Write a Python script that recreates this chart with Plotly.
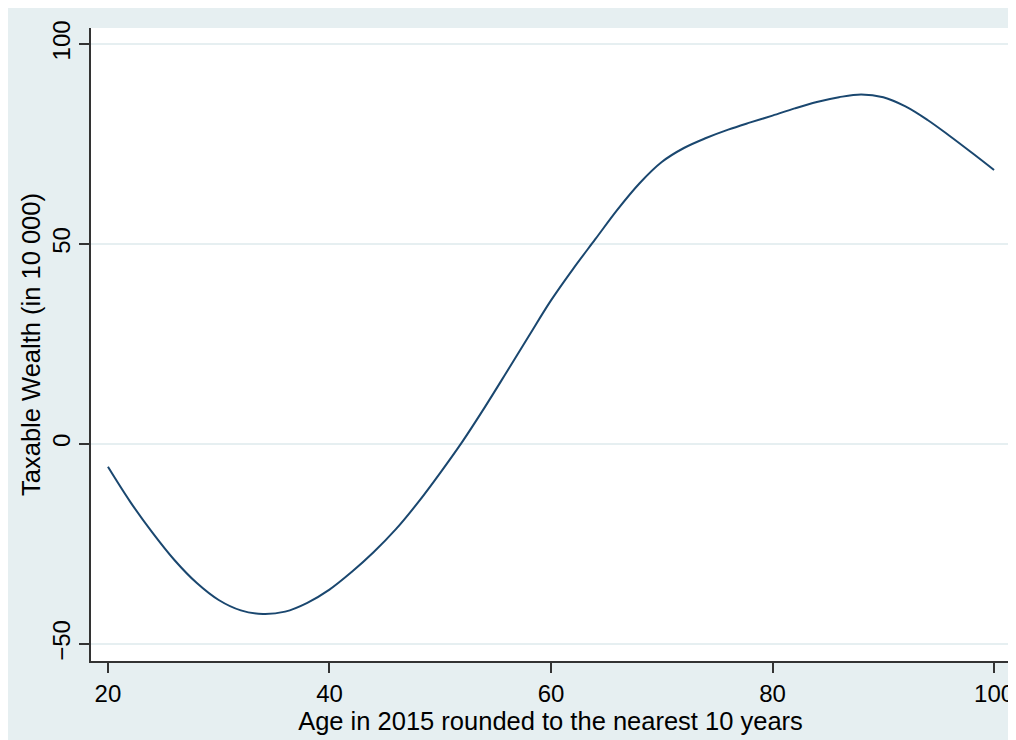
import plotly.graph_objects as go

age = [20, 22, 24, 26, 28, 30, 32, 34, 36, 38, 40, 42, 44, 46, 48, 50, 52, 54, 56, 58,
       60, 62, 64, 66, 68, 70, 72, 74, 76, 78, 80, 82, 84, 86, 88, 90, 92, 94, 96, 98, 100]
wealth = [-5.7, -14.4, -22.1, -29.0, -34.7, -39.0, -41.6, -42.5, -41.9, -39.7, -36.4,
          -32.0, -27.0, -21.3, -14.6, -7.2, 0.6, 9.1, 18.0, 27.0, 35.9, 43.8, 51.2,
          58.6, 65.2, 70.5, 74.0, 76.5, 78.6, 80.4, 82.1, 83.9, 85.5, 86.7, 87.4, 86.7,
          84.4, 81.0, 77.0, 72.8, 68.5]
x_ticks = [20, 40, 60, 80, 100]
y_ticks = [-50, 0, 50, 100]

BG = "#e6eff1"
FONT = "Liberation Sans, Arial, sans-serif"

fig = go.Figure()
fig.add_trace(go.Scatter(x=age, y=wealth, mode="lines",
                         line=dict(color="#1a476f", width=2, shape="spline", smoothing=1.0),
                         showlegend=False, hoverinfo="skip"))

fig.update_layout(
    width=1008, height=732,
    margin=dict(l=83, r=6, t=20, b=79, autoexpand=False),
    paper_bgcolor=BG, plot_bgcolor="white",
    font=dict(family=FONT, size=24, color="#000000"),
    xaxis=dict(range=[18.47, 101.44], tickvals=x_ticks, ticks="outside", ticklen=10,
               tickwidth=1.5, tickcolor="#333333", showline=True, linecolor="#333333",
               linewidth=1.5, showgrid=False, zeroline=False, automargin=False,
               title=dict(text="Age in 2015 rounded to the nearest 10 years", standoff=2,
                          font=dict(size=25.5)),
               tickfont=dict(size=24)),
    yaxis=dict(range=[-54.25, 104], tickvals=y_ticks, ticks="outside", ticklen=10,
               tickwidth=1.5, tickcolor="#333333", showline=True, linecolor="#333333",
               linewidth=1.5, showgrid=True, gridcolor=BG, gridwidth=1.5, zeroline=False,
               tickangle=-90, automargin=False,
               title=dict(text="Taxable Wealth (in 10 000)", standoff=0,
                          font=dict(size=25.5)),
               tickfont=dict(size=24)),
)

fig.write_html("out.html")
